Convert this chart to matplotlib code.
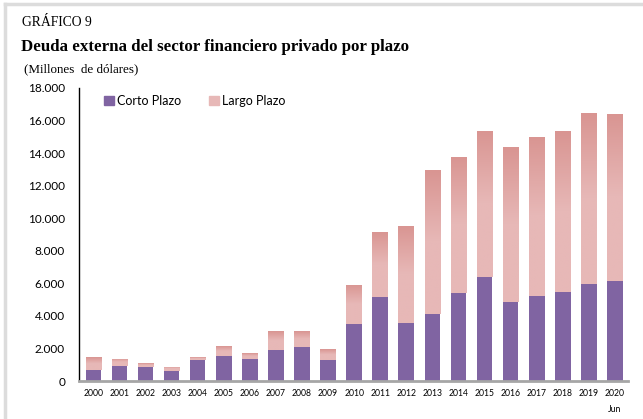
import numpy as np
import matplotlib
matplotlib.use("Agg")
import matplotlib.pyplot as plt
from matplotlib.patches import Patch
from matplotlib.lines import Line2D
from matplotlib.colors import LinearSegmentedColormap

years = ["2000", "2001", "2002", "2003", "2004", "2005", "2006", "2007", "2008", "2009",
         "2010", "2011", "2012", "2013", "2014", "2015", "2016", "2017", "2018", "2019", "2020\nJun"]
# millones de dolares
corto = [680, 920, 880, 610, 1310, 1540, 1370, 1920, 2090, 1310,
         3500, 5160, 3560, 4140, 5400, 6390, 4850, 5220, 5470, 5960, 6140]
total = [1470, 1370, 1100, 860, 1450, 2150, 1720, 3070, 3070, 1970,
         5900, 9130, 9520, 12980, 13760, 15380, 14370, 14990, 15360, 16460, 16420]
largo = [t - c for t, c in zip(total, corto)]

purple = "#8064A2"
pink_dark = "#D99592"
pink_light = "#E7B8B7"

fig = plt.figure(figsize=(6.43, 4.19), dpi=100)
ax = fig.add_axes([79/643, 1 - 381/419, (628 - 79)/643, (381 - 88)/419])

x = np.arange(len(years))
b1 = ax.bar(x, corto, width=0.6, color=purple, zorder=2)
b2 = ax.bar(x, largo, width=0.6, bottom=corto, color=pink_light, zorder=2)

# vertical gradient on the long-term bars (darker at the top half)
cmap = LinearSegmentedColormap.from_list("pk", [pink_light, pink_dark])
grad = np.concatenate([np.zeros(50), np.linspace(0, 1, 50)]).reshape(-1, 1)
for p in b2:
    x0, y0 = p.get_x(), p.get_y()
    im = ax.imshow(grad, cmap=cmap, aspect="auto", origin="lower",
                   extent=[x0, x0 + p.get_width(), y0, y0 + p.get_height()], zorder=2.5)
    im.set_clip_path(p)

ax.set_xlim(-0.55, 20.5)
ax.set_ylim(0, 18000)
ax.set_yticks(range(0, 18001, 2000))
ax.set_yticklabels([f"{v:,}".replace(",", ".") for v in range(0, 18001, 2000)],
                   fontsize=8.5, family="Lato")
ax.set_xticks(x)
ax.set_xticklabels(years, fontsize=6.2, family="Lato", linespacing=1.9)
ax.tick_params(axis="both", length=0)
ax.tick_params(axis="y", pad=10)
ax.tick_params(axis="x", pad=6)
for s in ["top", "right"]:
    ax.spines[s].set_visible(False)
ax.spines["left"].set_color("black")
ax.spines["left"].set_linewidth(1.0)
ax.spines["bottom"].set_color("#A6A6A6")
ax.spines["bottom"].set_linewidth(2.0)

handles = [Patch(color=purple), Patch(color=pink_light)]
ax.legend(handles, ["Corto Plazo", "Largo Plazo"], ncol=2, frameon=False,
          loc="upper left", bbox_to_anchor=(0.025, 1.015), handlelength=0.8,
          handleheight=0.8, handletextpad=0.25, columnspacing=2.2,
          prop={"family": "Lato", "size": 9})

fig.text(22/643, 1 - 23/419, "GRÁFICO 9", family="Liberation Serif", fontsize=9.8, va="center")
fig.text(21/643, 1 - 47/419, "Deuda externa del sector financiero privado por plazo",
         family="Liberation Serif", fontsize=12.2, weight="bold", va="center")
fig.text(24/643, 1 - 69/419, "(Millones  de dólares)", family="Liberation Serif",
         fontsize=9.4, va="center")

# sheet frame lines
fig.add_artist(Line2D([5/643, 1], [1 - 4/419, 1 - 4/419], color="#DCDCDC", lw=2.5))
fig.add_artist(Line2D([5/643, 5/643], [0, 1 - 4/419], color="#DCDCDC", lw=2.5))

fig.savefig("out.png", dpi=100)
